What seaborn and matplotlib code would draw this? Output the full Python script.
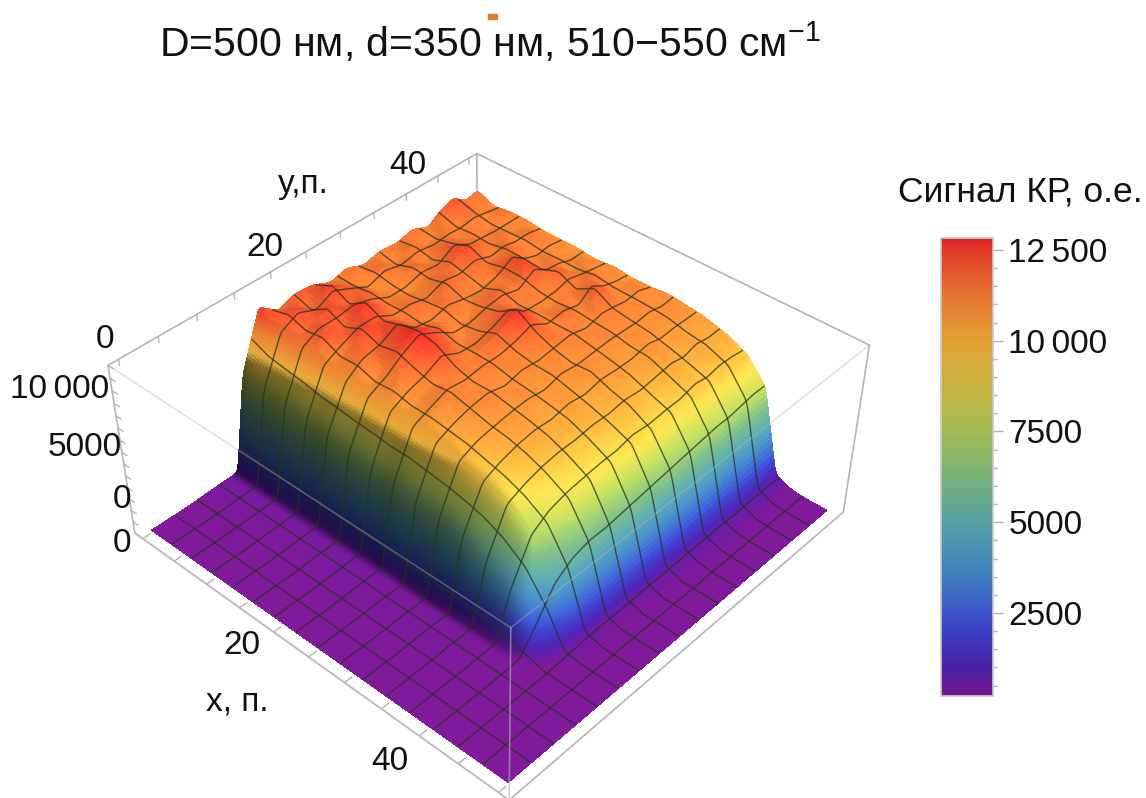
import numpy as np
import matplotlib
matplotlib.use("Agg")
import matplotlib.pyplot as plt
from matplotlib.cm import ScalarMappable
from matplotlib.colors import Normalize, LinearSegmentedColormap
from matplotlib.patches import Rectangle
import seaborn as sns

# ---- data (signal in hundreds) ----
x_nodes = [0, 2.5, 5, 7.5, 10, 12.5, 15, 17.5, 20, 22.5, 25, 27.5, 30, 32.5, 35, 38, 40.75, 43.25, 45.5, 47.5, 50]
y_nodes = [0, 2.5, 5, 7.5, 12, 14, 17, 19.5, 22, 24.5, 27, 29.5, 32, 34.5, 37, 39.5, 42, 44, 46, 48, 50]
signal_hundreds = [
 [2,2,2,3,4,80,126,114,120,118,112,116,110,114,112,116,110,118,122,114,116],
 [2,2,2,3,4,78,116,124,114,126,116,110,116,110,116,110,114,112,116,112,110],
 [2,2,2,3,4,76,114,118,124,116,120,110,112,116,110,118,112,114,110,114,112],
 [2,2,3,3,4,74,112,122,116,128,116,112,110,114,116,124,116,112,114,110,112],
 [2,2,2,3,4,72,108,114,124,120,114,116,112,118,114,116,112,116,112,114,110],
 [2,2,2,3,4,72,106,116,118,126,114,112,116,112,110,114,122,114,110,112,110],
 [2,2,2,3,4,70,104,110,122,128,122,112,110,114,118,112,124,112,114,108,110],
 [2,2,2,3,4,68,104,112,116,126,116,110,114,118,112,114,112,120,110,112,108],
 [2,2,2,3,4,66,102,108,112,116,112,116,120,128,114,110,114,112,116,110,110],
 [2,2,2,3,4,66,102,108,114,110,114,112,114,118,112,116,110,122,112,110,108],
 [2,2,2,3,3,64,100,106,110,112,108,112,110,112,114,110,114,112,110,112,108],
 [2,2,2,3,3,62,98,104,106,108,110,106,112,108,110,112,110,110,112,108,110],
 [2,2,2,3,3,60,94,100,104,106,104,108,106,110,108,106,110,108,108,110,108],
 [2,2,2,3,3,56,90,96,100,102,102,104,102,104,104,106,108,104,106,104,106],
 [2,2,2,3,3,48,84,90,94,96,96,98,98,100,98,100,102,100,104,102,102],
 [2,2,2,2,3,36,70,80,84,86,88,88,92,90,92,92,96,94,96,96,94],
 [2,2,2,2,3,18,44,54,58,58,60,62,64,66,68,70,72,72,74,76,76],
 [2,2,2,2,2,3,5,6,6,6,7,7,7,8,8,8,8,9,9,9,9],
 [2,2,2,2,2,2,2,2,2,2,2,2,2,3,3,3,3,3,3,3,3],
 [2,2,2,2,2,2,2,2,2,2,2,2,2,2,2,2,2,2,2,2,2],
 [2,2,2,2,2,2,2,2,2,2,2,2,2,2,2,2,2,2,2,2,2],
]
bar_levels = [214, 1000, 2000, 2500, 3750, 5000, 6250, 7500, 8750, 10000, 11250, 12500, 12830]
bar_colors = ["#75178d", "#4a1fa8", "#3a3fc0", "#3b57c8", "#4285bb", "#57a0a4", "#78b078",
              "#a3bb52", "#c8b53f", "#e3a036", "#e67530", "#df3a28", "#df2323"]
bar_ticks = [2500, 5000, 7500, 10000, 12500]
bar_ticklabels = ["2500", "5000", "7500", "10\u2009000", "12\u2009500"]
title_text = "D=500 нм, d=350 нм, 510−550 см$^{-1}$"
bar_title = "Сигнал КР, о.е."

sns.set_theme(style="white")
plt.rcParams["font.family"] = ["Liberation Sans", "DejaVu Sans"]
plt.rcParams["mathtext.fontset"] = "custom"
plt.rcParams["mathtext.rm"] = "Liberation Sans"
plt.rcParams["mathtext.default"] = "regular"

W, H = 1146, 798
fig = plt.figure(figsize=(W / 100, H / 100), dpi=100, facecolor="white")

def px(xp, yp):
    return xp / W, 1 - yp / H

zmin, zmax = bar_levels[0], bar_levels[-1]
frac = (np.array(bar_levels) - zmin) / (zmax - zmin)
cmap = LinearSegmentedColormap.from_list("cb", list(zip(frac, bar_colors)), N=512)
norm = Normalize(zmin, zmax)

# ---- surface drawn smoothly through the table ----
Z = np.array(signal_hundreds, float) * 100.0
K = 16
MESH_EVERY = 20
xf = np.linspace(0, 50, 20 * K + 1)
yf = np.linspace(0, 50, 20 * K + 1)
Zf = np.array([np.interp(yf, y_nodes, r) for r in Z])
Zf = np.array([np.interp(xf, x_nodes, c) for c in Zf.T]).T

def soften(a):
    p = np.pad(a, ((1, 1), (0, 0)), mode="edge")
    a = (p[:-2, :] + 2 * p[1:-1, :] + p[2:, :]) / 4
    p = np.pad(a, ((0, 0), (1, 1)), mode="edge")
    return (p[:, :-2] + 2 * p[:, 1:-1] + p[:, 2:]) / 4

for _ in range(4):
    Zf = soften(Zf)
Zs = Zf.copy()
for _ in range(32):
    Zs = soften(Zs)
XX, YY = np.meshgrid(xf, yf, indexing="ij")

pad = 1.3
xl, xh = -pad, 50 + pad
yl, yh = -pad, 50 + pad
zl, zh = 0, 14000
aspect = (1, 1, 0.42)
ELEV, AZIM, FOCAL, ZOOM = 40, -47.5, 0.30, 0.62

cx, cy, r = 475, 458, 600
ax = fig.add_axes([(cx - r) / W, (H - cy - r) / H, 2 * r / W, 2 * r / H], projection="3d", computed_zorder=False)
ax.set_proj_type("persp", focal_length=FOCAL)
ax.view_init(elev=ELEV, azim=AZIM)
ax.set_box_aspect(aspect, zoom=ZOOM)
ax.set_xlim(xl, xh, view_margin=0)
ax.set_ylim(yl, yh, view_margin=0)
ax.set_zlim(zl, zh, view_margin=0)
ax.set_axis_off()
ax.patch.set_alpha(0)

# lighting
sx = aspect[0] / (xh - xl)
sy = aspect[1] / (yh - yl)
sz = aspect[2] / (zh - zl)
gx, gy = np.gradient(Zs * sz, xf * sx, yf * sy)
nrm = np.dstack([-gx, -gy, np.ones_like(gx)])
nrm /= np.linalg.norm(nrm, axis=2, keepdims=True)
light = np.array([0.75, 0.1, 0.6])
light /= np.linalg.norm(light)
shade = 0.33 + 1.25 * np.clip(nrm @ light, 0, None)

# draw finely across the walls, more coarsely elsewhere
def draw_index(coord, lo, hi):
    idx = [k for k in range(len(coord)) if k % 3 == 0 or lo <= coord[k] <= hi]
    if idx[-1] != len(coord) - 1:
        idx.append(len(coord) - 1)
    return np.array(idx)

ix = draw_index(xf, 36.5, 45.0)
iy = draw_index(yf, 10.5, 18.5)
XD = XX[np.ix_(ix, iy)]
YD = YY[np.ix_(ix, iy)]
ZD = Zf[np.ix_(ix, iy)]
SD = shade[np.ix_(ix, iy)]
zc = 0.25 * (ZD[:-1, :-1] + ZD[1:, :-1] + ZD[:-1, 1:] + ZD[1:, 1:])
sc = 0.25 * (SD[:-1, :-1] + SD[1:, :-1] + SD[:-1, 1:] + SD[1:, 1:])
sc = np.minimum(sc, 1.1 + 0.17 * np.clip((zc - 6000) / 2500, 0, 1) - 0.14 * np.clip((zc - 9000) / 1000, 0, 1))
sc = np.maximum(sc, 0.33 + 0.7 * np.clip((zc - 8800) / 900, 0, 1))
rgb = cmap(norm(zc))
rgb[..., :3] = np.clip(rgb[..., :3] * sc[..., None], 0, 1)
ax.plot_surface(XD, YD, ZD, facecolors=rgb, rstride=1, cstride=1, shade=False,
                linewidth=0.5, antialiased=False, zorder=2)

# mesh lines, hidden parts removed
el, az = np.radians(ELEV), np.radians(AZIM)
dirv = np.array([np.cos(el) * np.cos(az) / sx, np.cos(el) * np.sin(az) / sy, np.sin(el) / sz])

def visible(px_, py_, pz_):
    vis = np.ones(px_.shape, bool)
    for t in np.linspace(0.004, 0.5, 80):
        qx = px_ + dirv[0] * t
        qy = py_ + dirv[1] * t
        qz = pz_ + dirv[2] * t
        ins = (qx >= 0) & (qx <= 50) & (qy >= 0) & (qy <= 50)
        i = np.clip(np.round(qx / 50 * (len(xf) - 1)).astype(int), 0, len(xf) - 1)
        j = np.clip(np.round(qy / 50 * (len(yf) - 1)).astype(int), 0, len(yf) - 1)
        vis &= ~(ins & (Zf[i, j] > qz + 150))
    return vis

mesh = dict(color="#26321f", lw=1.0, alpha=0.75, zorder=3)
for i in range(MESH_EVERY, len(xf) - 1, MESH_EVERY):
    v = visible(XX[i], YY[i], Zf[i])
    ax.plot(XX[i], YY[i], np.where(v, Zf[i], np.nan), **mesh)
for j in range(MESH_EVERY, len(yf) - 1, MESH_EVERY):
    v = visible(XX[:, j], YY[:, j], Zf[:, j])
    ax.plot(XX[:, j], YY[:, j], np.where(v, Zf[:, j], np.nan), **mesh)

# bounding box
bc = dict(color="#b4b4b4", lw=1.2, zorder=4)

def seg(a, b, **kw):
    ax.plot([a[0], b[0]], [a[1], b[1]], [a[2], b[2]], **{**bc, **kw})

seg((xl, yl, zh), (xl, yh, zh))
seg((xl, yh, zh), (xh, yh, zh))
seg((xh, yh, zh), (xh, yl, zh), alpha=0.4)
seg((xh, yl, zh), (xl, yl, zh), alpha=0.4)
seg((xl, yl, zl), (xl, yl, zh))
seg((xh, yh, zl), (xh, yh, zh))
seg((xh, yl, zl), (xh, yl, zh), alpha=0.6)
seg((xl, yl, zl), (xh, yl, zl))
seg((xh, yl, zl), (xh, yh, zl))
seg((xl, yh, zh), (xl, yh, zh - 4000), zorder=1)
for t in range(0, 51, 5):
    seg((t, yl, zl), (t, yl + 1.0, zl), lw=1)
    seg((xl, t, zh), (xl, t, zh - 500), lw=1)
for t in range(0, 14001, 1000):
    seg((xl, yl, t), (xl + 0.8, yl, t), lw=1)

# axis texts
fs = 24
txt = [("0", 105, 340), ("20", 265, 248), ("40", 408, 165), ("y,п.", 303, 185),
       ("10\u2009000", 60, 390), ("5000", 85, 447), ("0", 122, 500),
       ("0", 122, 543), ("20", 242, 646), ("40", 390, 761), ("x, п.", 237, 702)]
for s, xp, yp in txt:
    fig.text(*px(xp, yp), s, ha="center", va="center", fontsize=fs, color="#111111")
fig.text(*px(490, 42), title_text, ha="center", va="center", fontsize=29.5, color="#111111")
fig.text(*px(1020, 192), bar_title, ha="center", va="center", fontsize=25.5, color="#111111")
fig.add_artist(Rectangle(px(488, 19), 9 / W, 5 / H, transform=fig.transFigure, color="#e0782a"))

# colour bar
cax = fig.add_axes([941 / W, 1 - 696 / H, 52 / W, (696 - 238) / H])
cb = fig.colorbar(ScalarMappable(norm=norm, cmap=cmap), cax=cax)
cb.set_ticks(bar_ticks, labels=bar_ticklabels)
cb.ax.tick_params(labelsize=24, length=7, width=1, color="#b4b4b4", pad=4, labelcolor="#111111")
cb.ax.set_yticks([t for t in range(500, 12501, 500) if t not in bar_ticks], minor=True)
cb.ax.tick_params(which="minor", length=3, width=1, color="#b4b4b4")
cb.outline.set_edgecolor("#c8c8c8")

fig.savefig("out.png", dpi=100)
